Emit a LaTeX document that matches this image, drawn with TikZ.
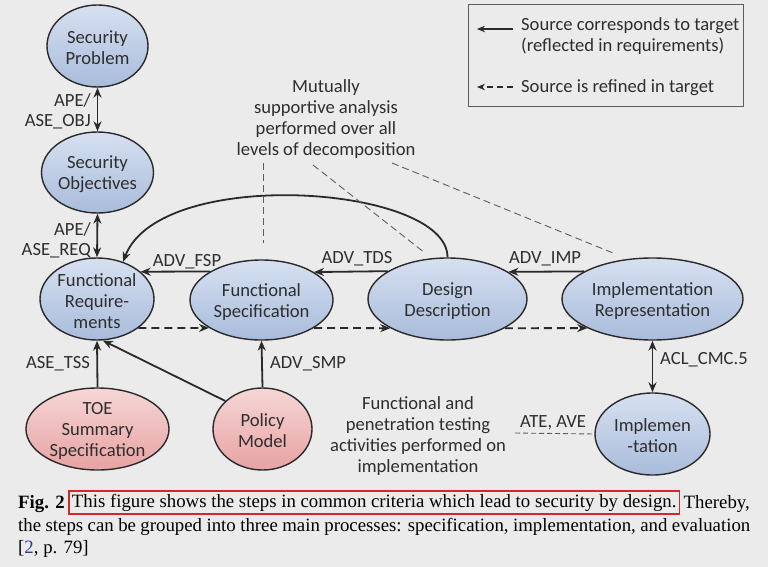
\documentclass[tikz,border=0pt]{standalone}
\usepackage{fontspec}
\setmainfont{Carlito}
\newfontfamily\capfont{Liberation Serif}
\usetikzlibrary{shapes.geometric,arrows.meta}
\definecolor{bg}{HTML}{EBEBEB}
\definecolor{edge}{HTML}{2A2A2A}
\definecolor{txtc}{HTML}{2E2E2E}
\definecolor{bluetop}{HTML}{D6E0F0}
\definecolor{bluebot}{HTML}{A9BCDC}
\definecolor{pinktop}{HTML}{F6D6D6}
\definecolor{pinkbot}{HTML}{E8A2A2}
\definecolor{capred}{HTML}{D02A2A}
\definecolor{citeblue}{HTML}{2A3E9A}
\definecolor{anncol}{HTML}{5E5E5E}
\tikzset{
  ell/.style={ellipse, draw=edge, line width=1.4pt, inner sep=0pt},
  bluen/.style={ell, top color=bluetop, bottom color=bluebot},
  pinkn/.style={ell, top color=pinktop, bottom color=pinkbot},
  txt/.style={font=\fontsize{18.6}{20.8}\selectfont, text=txtc, align=center, inner sep=0pt},
  intxt/.style={txt, yshift=-2pt},
  lbl/.style={font=\fontsize{18.6}{20}\selectfont, text=txtc, inner sep=0pt},
  tip/.tip={Stealth[length=10pt,width=8pt]},
  arr/.style={line width=1.8pt, draw=edge, -tip},
  dbl/.style={line width=1.8pt, draw=edge, tip-tip},
  darr/.style={line width=1.8pt, draw=edge, -tip, dash pattern=on 8pt off 5pt},
  ann/.style={draw=anncol, line width=0.9pt, dash pattern=on 7pt off 4pt},
  captxt/.style={font=\capfont\fontsize{18.8}{22}\selectfont, text=black, inner sep=0pt}
}
\begin{document}
\begin{tikzpicture}[x=1pt,y=-1pt]
\fill[bg] (0,0) rectangle (768,567);
\useasboundingbox (0,0) rectangle (768,567);

% nodes
\node[bluen, minimum width=101pt, minimum height=82pt, label={[intxt]center:Security\\Problem}] (sp) at (97.5,46) {};
\node[bluen, minimum width=112pt, minimum height=81pt, label={[intxt]center:Security\\Objectives}] (so) at (97.5,172.5) {};
\node[bluen, minimum width=114pt, minimum height=82pt, label={[intxt]center:Functional\\Require-\\ments}] (fr) at (97,299) {};
\node[bluen, minimum width=143pt, minimum height=80pt, label={[intxt]center:Functional\\Specification}] (fs) at (261.5,300) {};
\node[bluen, minimum width=159pt, minimum height=82pt, label={[intxt]center:Design\\Description}] (dd) at (447.5,299) {};
\node[bluen, minimum width=181pt, minimum height=82pt, label={[intxt]center:Implementation\\Representation}] (ir) at (652.5,299) {};
\node[bluen, minimum width=115pt, minimum height=82pt, label={[intxt]center:Implemen\\-tation}] (im) at (652.5,434) {};
\node[pinkn, minimum width=143pt, minimum height=82pt, label={[intxt]center:TOE\\Summary\\Specification}] (toe) at (97.5,429) {};
\node[pinkn, minimum width=99pt, minimum height=82pt, label={[intxt]center:Policy\\Model}] (pm) at (262.5,429) {};

% vertical connectors
\draw[dbl] (sp.south) -- (so.north);
\node[lbl, align=right, anchor=east] (l1) at (91,111) {APE/\\ASE\_OBJ};
\draw[dbl] (so.south) -- (fr.north);
\node[lbl, align=right, anchor=east] (l2) at (91,240) {APE/\\ASE\_REQ};
\draw[arr] (toe.north) -- (fr.south);
\node[lbl] (l3) at (58,364) {ASE\_TSS};
\draw[arr] (pm.143) -- (fr.278);
\draw[arr] (pm.north) -- (fs.south);
\node[lbl, anchor=west] (l4) at (270,364) {ADV\_SMP};
\draw[dbl] (ir.south) -- (im.north);
\node[lbl, anchor=west] (l5) at (660,360) {ACL\_CMC.5};

% horizontal solid
\draw[arr] (fs.151.3) -- (fr.32.2);
\node[lbl] (l6) at (187,262) {ADV\_FSP};
\draw[arr] (dd.155.7) -- (fs.28.7);
\node[lbl] (l7) at (357,259) {ADV\_TDS};
\draw[arr] (ir.158.4) -- (dd.24.3);
\node[lbl] (l8) at (545,259) {ADV\_IMP};

% horizontal dashed
\draw[darr] (fr.-35.7) -- (fs.208.7);
\draw[darr] (fs.-28.7) -- (dd.207.3);
\draw[darr] (dd.-27.3) -- (ir.204.4);

% curved arrow
\draw[arr] (dd.north) .. controls (448,185) and (160,165) .. (fr.55);

% annotation
\node[txt] (note) at (326,119) {Mutually\\supportive analysis\\performed over all\\levels of decomposition};
\coordinate (n1a) at (263,163); \coordinate (n1b) at (263,243);
\coordinate (n2a) at (313,165); \coordinate (n2b) at (425,253);
\coordinate (n3a) at (392,163); \coordinate (n3b) at (613,253);
\draw[ann] (n1a) -- (n1b);
\draw[ann] (n2a) -- (n2b);
\draw[ann] (n3a) -- (n3b);

\node[txt] (test) at (418,436) {Functional and\\penetration testing\\activities performed on\\implementation};
\coordinate (ta) at (515,433);
\draw[ann, dash pattern=on 5pt off 3pt] (ta) -- (im.west);
\node[lbl] (l9) at (553,423) {ATE, AVE};

% legend
\draw[draw=anncol, line width=1pt] (468,5) rectangle (743,107);
\coordinate (g1a) at (513,29); \coordinate (g1b) at (477,29);
\coordinate (g2a) at (513,87); \coordinate (g2b) at (477,87);
\draw[arr, line width=1.4pt, -{Stealth[length=8pt,width=6.5pt]}] (g1a) -- (g1b);
\draw[arr, line width=1.4pt, -{Stealth[length=8pt,width=6.5pt]}, dash pattern=on 6pt off 4pt] (g2a) -- (g2b);
\node[lbl, align=left, anchor=west, font=\fontsize{18.6}{21}\selectfont] (lg1) at (521,36.5) {Source corresponds to target\\(reflected in requirements)};
\node[lbl, anchor=west] (lg2) at (521,88) {Source is refined in target};

% caption
\node[captxt, anchor=base west] (fig) at (18,508) {\textbf{Fig. 2}};
\node[captxt, anchor=west, draw=capred, line width=1.8pt, inner xsep=3pt, minimum height=23pt] (hl) at (68,502.5) {This figure shows the steps in common criteria which lead to security by design.};
\node[captxt, anchor=base east] (th) at (750,508) {Thereby,};
\node[captxt, anchor=base west] (c2) at (18,531) {\makebox[732pt][s]{the steps can be grouped into three main processes: specification, implementation, and evaluation}};
\node[captxt, anchor=base west] (c3) at (18,553) {[\textcolor{citeblue}{2}, p. 79]};
\end{tikzpicture}
\end{document}
